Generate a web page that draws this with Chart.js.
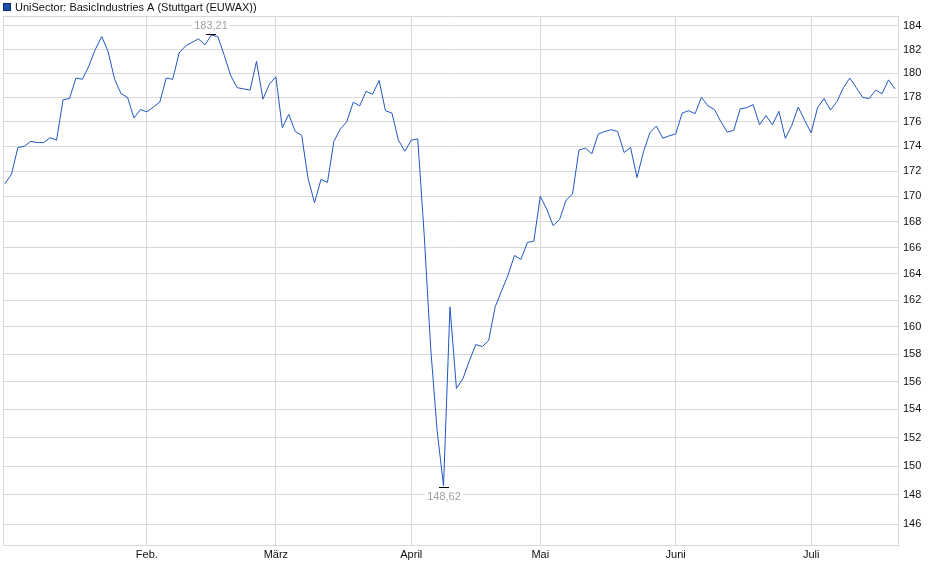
<!DOCTYPE html>
<html>
<head>
<meta charset="utf-8">
<script src="https://cdn.jsdelivr.net/npm/chart.js@4.4.1/dist/chart.umd.min.js"></script>
<style>
  html, body { margin: 0; padding: 0; background: #fff; }
  #kurs { display: block; }
</style>
</head>
<body>
<canvas id="kurs" width="940" height="579"></canvas>
<script>
// Kursverlauf pro Handelstag (Januar bis Juli)
const kurse = [
  171.0, 171.75, 173.9, 174.0, 174.4, 174.3, 174.3, 174.7, 174.5, 177.8,
  177.9, 179.6, 179.5, 180.6, 182.0, 183.1, 181.8, 179.5, 178.3, 178.0,
  176.3, 177.0, 176.8, 177.2, 177.6, 179.6, 179.5, 181.7, 182.3, 182.6,
  182.9, 182.4, 183.21, 183.1, 181.5, 179.8, 178.8, 178.7, 178.6, 181.0,
  177.85, 179.1, 179.7, 175.5, 176.6, 175.2, 174.9, 171.4, 169.5, 171.35,
  171.1, 174.4, 175.4, 176.0, 177.6, 177.3, 178.5, 178.25, 179.4, 176.9,
  176.7, 174.5, 173.6, 174.5, 174.6, 167.0, 158.5, 152.5, 148.62, 161.5,
  155.5, 156.2, 157.5, 158.7, 158.55, 159.0, 161.5, 162.7, 163.9, 165.4,
  165.1, 166.4, 166.5, 170.0, 169.0, 167.7, 168.2, 169.7, 170.2, 173.7,
  173.85, 173.4, 175.0, 175.2, 175.35, 175.2, 173.5, 173.9, 171.5, 173.55,
  175.1, 175.65, 174.65, 174.85, 175.0, 176.7, 176.9, 176.65, 178.0, 177.3,
  177.0, 176.0, 175.15, 175.3, 177.05, 177.15, 177.4, 175.75, 176.5, 175.75,
  176.85, 174.65, 175.7, 177.2, 176.1, 175.1, 177.15, 177.9, 176.95, 177.65,
  178.8, 179.6, 178.8, 178.0, 177.9, 178.6, 178.3, 179.45, 178.7
];

// Monatsanfänge (Index des Handelstags) und Beschriftung
const monatIndex = [22, 42, 63, 83, 104, 125];
const monatNamen = ['Feb.', 'März', 'April', 'Mai', 'Juni', 'Juli'];

// Beschriftung der Kursachse
const yTicks = [146, 148, 150, 152, 154, 156, 158, 160, 162, 164, 166, 168, 170, 172, 174, 176, 178, 180, 182, 184];

const titel = 'UniSector: BasicIndustries A (Stuttgart (EUWAX))';
const linienFarbe = '#1f57c3';
const schrift = "'Liberation Sans', Arial, sans-serif";

// Deutsche Schreibweise mit Komma
const formatKurs = (v) => v.toFixed(2).replace('.', ',');

// Legende oben links + Rahmen
const legendePlugin = {
    id: 'legende',
    beforeDatasetsDraw(chart) {
        const ctx = chart.ctx;
        const a = chart.chartArea;
        ctx.save();
        ctx.strokeStyle = '#d8d8d8';
        ctx.lineWidth = 1;
        ctx.beginPath();
        ctx.moveTo(a.left + 0.5, a.top);
        ctx.lineTo(a.left + 0.5, a.bottom);
        ctx.moveTo(a.left, a.top + 0.5);
        ctx.lineTo(a.right, a.top + 0.5);
        ctx.stroke();
        ctx.restore();
    },
    afterDraw(chart) {
        const ctx = chart.ctx;
        ctx.save();
        ctx.fillStyle = '#1a4fb0';
        ctx.fillRect(3, 3, 8, 8);
        ctx.strokeStyle = '#0b2a66';
        ctx.lineWidth = 1;
        ctx.strokeRect(3.5, 3.5, 7, 7);
        ctx.fillStyle = '#111';
        ctx.font = '11px ' + schrift;
        ctx.textBaseline = 'middle';
        ctx.textAlign = 'left';
        ctx.fillText(titel, 15, 7.5);
        ctx.restore();
    }
};

// Markierung von Hoch und Tief
const extremPlugin = {
    id: 'extreme',
    afterDatasetsDraw(chart) {
        const ctx = chart.ctx;
        const xs = chart.scales.x;
        const ys = chart.scales.y;
        let iMax = 0, iMin = 0;
        kurse.forEach((v, i) => {
            if (v > kurse[iMax]) iMax = i;
            if (v < kurse[iMin]) iMin = i;
        });
        ctx.save();
        ctx.font = '11px ' + schrift;
        ctx.textAlign = 'center';
        ctx.textBaseline = 'middle';

        const marke = (i, oben) => {
            const px = Math.round(xs.getPixelForValue(i));
            const py = Math.round(ys.getPixelForValue(kurse[i]));
            ctx.strokeStyle = '#000';
            ctx.lineWidth = 1;
            ctx.beginPath();
            const my = oben ? py - 0.5 : py + 1.5;
            ctx.moveTo(px - 5, my);
            ctx.lineTo(px + 5, my);
            ctx.stroke();
            const txt = formatKurs(kurse[i]);
            const w = ctx.measureText(txt).width;
            const ty = oben ? py - 9 : py + 11;
            ctx.fillStyle = '#fff';
            ctx.fillRect(px - w / 2 - 2, ty - 6, w + 4, 12);
            ctx.fillStyle = '#a0a0a0';
            ctx.fillText(txt, px, ty);
        };
        marke(iMax, true);
        marke(iMin, false);
        ctx.restore();
    }
};

const ctx_kurs = document.getElementById('kurs').getContext('2d');

new Chart(ctx_kurs, {
    type: 'line',
    data: {
        datasets: [{
            label: titel,
            data: kurse.map((v, i) => ({ x: i, y: v })),
            borderColor: linienFarbe,
            borderWidth: 1,
            pointRadius: 0,
            tension: 0,
            fill: false
        }]
    },
    options: {
        responsive: false,
        animation: false,
        events: [],
        layout: { padding: { top: 16, left: 3, right: 0, bottom: 0 } },
        plugins: {
            legend: { display: false },
            tooltip: { enabled: false }
        },
        scales: {
            x: {
                type: 'linear',
                min: -0.31,
                max: 138.47,
                afterBuildTicks: (scale) => {
                    scale.ticks = monatIndex.map(v => ({ value: v }));
                },
                afterFit: (scale) => { scale.height = 34; },
                ticks: {
                    autoSkip: false,
                    maxRotation: 0,
                    padding: 3,
                    color: '#111',
                    font: { family: schrift, size: 11 },
                    callback: (v) => monatNamen[monatIndex.indexOf(v)]
                },
                grid: { color: '#d8d8d8', drawTicks: false },
                border: { color: '#d8d8d8' }
            },
            y: {
                type: 'logarithmic',
                position: 'right',
                min: 144.6,
                max: 184.85,
                afterBuildTicks: (scale) => {
                    scale.ticks = yTicks.map(v => ({ value: v }));
                },
                afterFit: (scale) => { scale.width = 42; },
                ticks: {
                    padding: 5,
                    color: '#111',
                    font: { family: schrift, size: 11 },
                    callback: (v) => String(v)
                },
                grid: { color: '#d8d8d8', drawTicks: false },
                border: { color: '#d8d8d8' }
            }
        }
    },
    plugins: [legendePlugin, extremPlugin]
});
</script>
</body>
</html>
